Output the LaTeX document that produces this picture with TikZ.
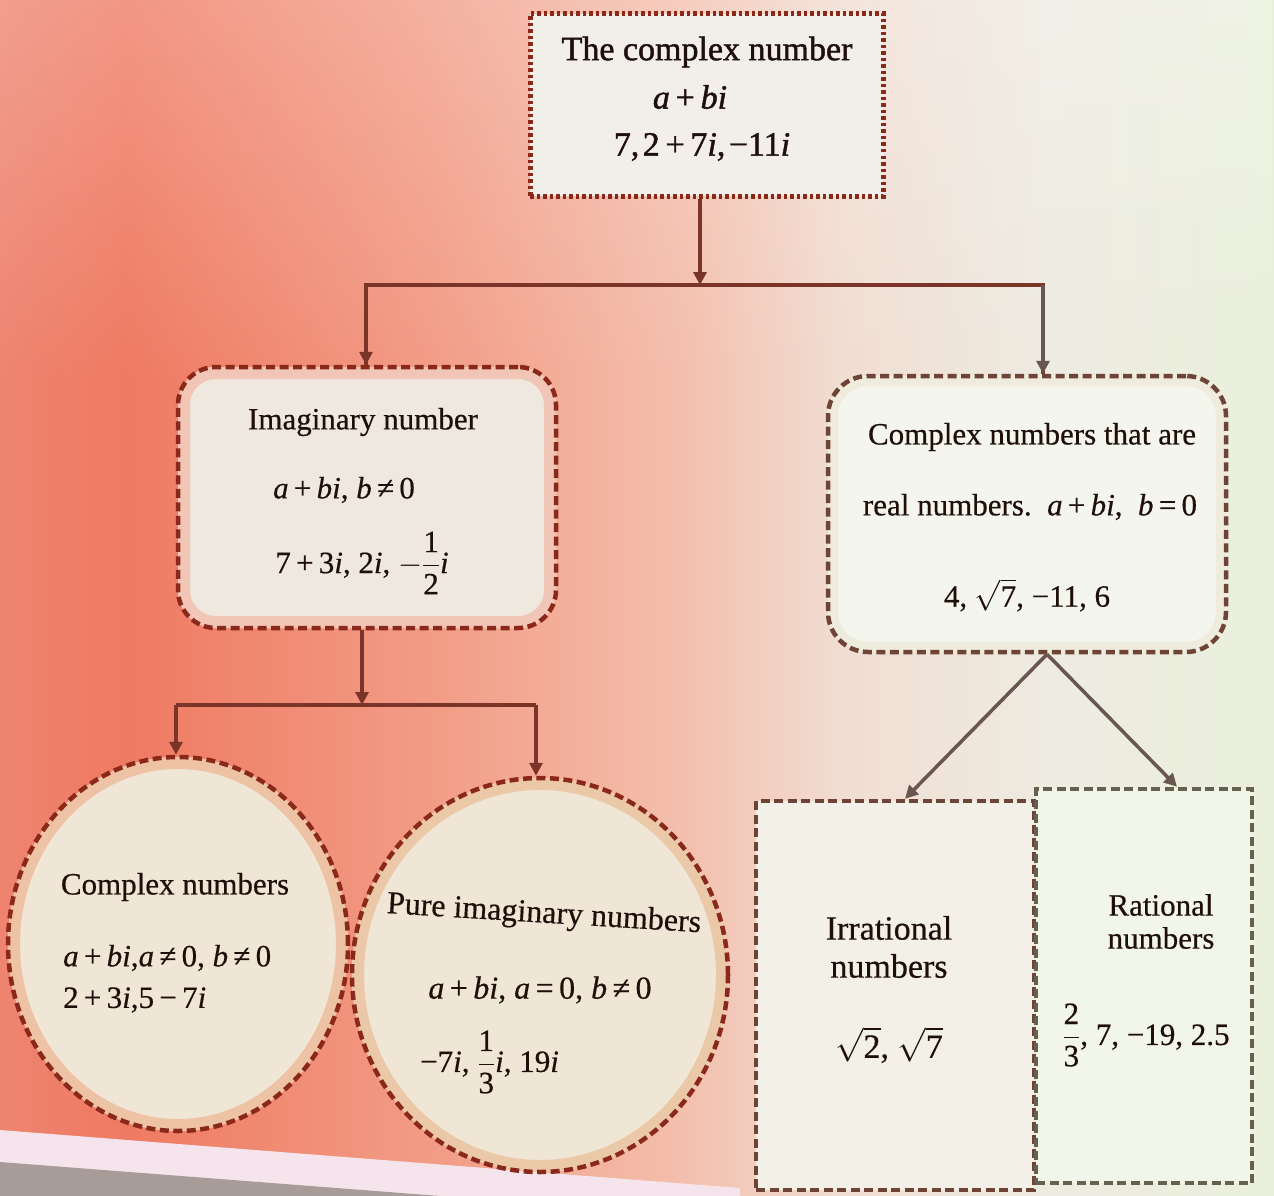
\RequirePackage{fix-cm}
\documentclass[tikz,border=0pt]{standalone}
\usepackage{amsmath}
\usepackage{fontspec}
\setmainfont{Liberation Serif}[FakeBold=0.5]
\newfontfamily\topfont{Liberation Serif}[FakeBold=1.3]
\usetikzlibrary{shapes.geometric,arrows.meta,fadings}

\definecolor{c0}{HTML}{EE8470}
\definecolor{c1}{HTML}{EF7A62}
\definecolor{c2}{HTML}{F29C86}
\definecolor{c3}{HTML}{F4C0AE}
\definecolor{c4}{HTML}{F1DDD2}
\definecolor{c5}{HTML}{EEEBE1}
\definecolor{c6}{HTML}{EAF0DC}
\pgfdeclarehorizontalshading{bgsh}{100bp}{color(0bp)=(c0); color(25bp)=(c0); color(30bp)=(c1); color(42bp)=(c2); color(52bp)=(c3); color(58bp)=(c4); color(66bp)=(c5); color(75bp)=(c6); color(100bp)=(c6)}

\definecolor{stripcol}{HTML}{F6E4EC}
\definecolor{greycol}{HTML}{A89C98}
\definecolor{redborder}{HTML}{8A281A}
\definecolor{brownborder}{HTML}{6E4436}
\definecolor{greyborder}{HTML}{66604F}
\definecolor{conncol}{HTML}{7A3428}
\definecolor{conngrey}{HTML}{6A5650}
\definecolor{txtcol}{HTML}{1E0F0A}
\definecolor{topfill}{HTML}{F2EFEA}
\definecolor{imfill}{HTML}{EFE8DF}
\definecolor{imband}{HTML}{F2C6B6}
\definecolor{rfill}{HTML}{F4F5EC}
\definecolor{rband}{HTML}{EFEBDD}
\definecolor{cfill}{HTML}{EFE6D6}
\definecolor{cband}{HTML}{EEC2A4}
\definecolor{c2band}{HTML}{EBC8A8}
\definecolor{irrfill}{HTML}{F3F1E7}
\definecolor{ratfill}{HTML}{F2F5E9}

\newcommand{\mi}[1]{\textit{#1}}
\newcommand{\tx}[1]{\text{#1}}
\newcommand{\op}[1]{\hspace{0.17em}#1\hspace{0.17em}}

\tikzset{
  conn/.style={draw=conncol, line width=3.5pt},
  conng/.style={draw=conngrey, line width=3.5pt},
  tipd/.style={-{Triangle[width=13pt,length=13pt]}},
  txt/.style={inner sep=0pt, text=txtcol, font=\fontsize{31}{37}\selectfont},
  toptxt/.style={inner sep=0pt, text=txtcol, font=\topfont\fontsize{34}{40}\selectfont},
  dashbox/.style={dash pattern=on 9pt off 4.5pt, line width=4.5pt},
}

\begin{document}
\begin{tikzpicture}[x=1pt,y=-1pt]
\useasboundingbox (0,0) rectangle (1274,1196);
% background
\shade[shading=bgsh] (0,0) rectangle (1274,1196);
\fill[white, fill opacity=0.22, path fading=south] (0,0) rectangle (1274,380);
\fill[stripcol] (0,1130) -- (740,1188) -- (740,1196) -- (0,1196) -- cycle;
\fill[greycol] (0,1162) -- (440,1196) -- (0,1196) -- cycle;

% shapes
\node (top) [draw=redborder, fill=topfill, line width=5pt, dash pattern=on 3.5pt off 3pt,
  minimum width=353pt, minimum height=182pt, inner sep=0pt] at (706.5,105) {};

\node (imag) [draw=redborder, fill=imfill, dashbox, rounded corners=38pt,
  minimum width=378pt, minimum height=261pt, inner sep=0pt,
  path picture={\draw[imband, line width=24pt, rounded corners=38pt, solid]
    (path picture bounding box.south west) rectangle (path picture bounding box.north east);}]
  at (367,497.5) {};

\node (right) [draw=brownborder, fill=rfill, dashbox, rounded corners=40pt,
  minimum width=398pt, minimum height=276pt, inner sep=0pt,
  path picture={\draw[rband, line width=20pt, rounded corners=40pt, solid]
    (path picture bounding box.south west) rectangle (path picture bounding box.north east);}]
  at (1027,514) {};

\node (circ1) [ellipse, draw=redborder, fill=cfill, dashbox,
  minimum width=340pt, minimum height=374pt, inner sep=0pt,
  path picture={\draw[cband, line width=24pt, solid]
    (path picture bounding box.center) ellipse [x radius=170pt, y radius=187pt];}]
  at (178,944) {};

\node (circ2) [ellipse, draw=redborder, fill=cfill, dashbox,
  minimum width=376pt, minimum height=394pt, inner sep=0pt,
  path picture={\draw[c2band, line width=24pt, solid]
    (path picture bounding box.center) ellipse [x radius=188pt, y radius=197pt];}]
  at (540,975) {};

\node (irr) [draw=brownborder, fill=irrfill, dashbox,
  minimum width=278pt, minimum height=389pt, inner sep=0pt] at (895,995.5) {};
\node (rat) [draw=greyborder, fill=ratfill, dashbox,
  minimum width=216pt, minimum height=394pt, inner sep=0pt] at (1144,986) {};

% texts
\node (t1) [toptxt] at (707,52) {The complex number};
\node (t2) [toptxt] at (690,97) {\mi{a}\op{+}\mi{bi}};
\node (t3) [toptxt] at (702,147) {7,\hspace{0.1em}2\op{+}7\mi{i},\hspace{0.1em}−11\mi{i}};

\node (i1) [txt] at (363,422) {Imaginary number};
\node (i2) [txt] at (344,490) {\mi{a}\op{+}\mi{bi}, \mi{b}\op{≠}0};
\node (i3) [txt] at (362,563) {7\op{+}3\mi{i}, 2\mi{i}, $-\dfrac{\tx{1}}{\tx{2}}$\mi{i}};

\node (r1) [txt] at (1032,437) {Complex numbers that are};
\node (r2) [txt] at (1030,507) {real numbers.\enspace\mi{a}\op{+}\mi{bi},\enspace\mi{b}\op{=}0};
\node (r3) [txt] at (1027,595) {4, $\sqrt{\tx{7}}$, −11, 6};

\node (c1a) [txt] at (175,887) {Complex numbers};
\node (c1b) [txt, anchor=west] at (63,958) {\mi{a}\op{+}\mi{bi},\mi{a}\op{≠}0, \mi{b}\op{≠}0};
\node (c1c) [txt, anchor=west] at (63,1000) {2\op{+}3\mi{i},5\op{−}7\mi{i}};

\node (c2a) [txt, font=\fontsize{32}{38}\selectfont, rotate=-3.5] at (544,915) {Pure imaginary numbers};
\node (c2b) [txt, font=\fontsize{32}{38}\selectfont] at (540,990) {\mi{a}\op{+}\mi{bi}, \mi{a}\op{=}0, \mi{b}\op{≠}0};
\node (c2c) [txt, anchor=west] at (420,1062) {−7\mi{i}, $\dfrac{\tx{1}}{\tx{3}}$\mi{i}, 19\mi{i}};

\node (ir1) [txt, font=\fontsize{34}{40}\selectfont] at (889,928) {Irrational};
\node (ir2) [txt, font=\fontsize{34}{40}\selectfont] at (889,966) {numbers};
\node (ir3) [txt, font=\fontsize{34}{40}\selectfont] at (889,1045) {$\sqrt{\tx{2}}$, $\sqrt{\tx{7}}$};

\node (ra1) [txt] at (1161,905) {Rational};
\node (ra2) [txt] at (1161,938) {numbers};
\node (ra3) [txt] at (1146,1035) {$\dfrac{\tx{2}}{\tx{3}}$, 7, −19, 2.5};

% connectors
\coordinate (hL) at (366,285);
\coordinate (hR) at (1043,285);
\coordinate (hM) at (700,285);
\draw[conn, tipd] (hM |- top.south) -- (hM);
\draw[conn] (hL |- imag.north) -- (hL) -- (hR) -- (hR |- right.north);
\draw[conn, tipd] (hL) -- (hL |- imag.north);
\draw[conng, tipd] (hR) -- (hR |- right.north);

\coordinate (gL) at (176,705);
\coordinate (gR) at (536,705);
\coordinate (gM) at (362,705);
\draw[conn, tipd] (gM |- imag.south) -- (gM);
\draw[conn] (gL) -- (gR);
\draw[conn, tipd] (gL) -- (gL |- circ1.north);
\draw[conn, tipd] (gR) -- (gR |- circ2.north);

\coordinate (d0) at ([xshift=20pt]right.south);
\coordinate (da) at ([xshift=10pt]irr.north);
\coordinate (db) at ([xshift=33pt]rat.north);
\draw[conng, tipd] (d0) -- (da);
\draw[conng, tipd] (d0) -- (db);
\end{tikzpicture}
\end{document}
